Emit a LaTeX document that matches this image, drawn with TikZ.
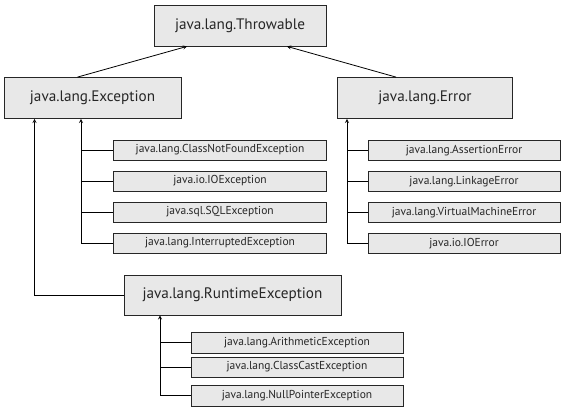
\documentclass[tikz,border=0pt]{standalone}
\usepackage{fontspec}
\setmainfont{PT Sans}
\begin{document}
\begin{tikzpicture}[x=1pt,y=-1pt,>=stealth,line width=0.8pt,
		cls/.style={draw=black!85,fill=black!9,inner sep=0pt,text=black!85},
		big/.style={cls,minimum height=41pt,font=\fontsize{15.2}{17}\selectfont},
		small/.style={cls,minimum height=20pt,font=\fontsize{11.5}{13}\selectfont}]
	\useasboundingbox (0,0) rectangle (563,410);
	% top levels
	\node[big,minimum width=172pt] (throwable) at (240,25.5) {java.lang.Throwable};
	\node[big,minimum width=177pt] (exception) at (92.5,98) {java.lang.Exception};
	\node[big,minimum width=175pt] (error) at (425,98) {java.lang.Error};
	\node[big,minimum width=217pt,minimum height=40pt] (runtime) at (232.5,295) {java.lang.RuntimeException};
	\draw[->] ([xshift=-15pt]exception.north)--([xshift=-53pt]throwable.south);
	\draw[->] ([xshift=-29pt]error.north)--([xshift=47pt]throwable.south);
	% subclasses
	\coordinate (exbus) at ([xshift=-11.5pt]exception.south);
	\coordinate (erbus) at ([xshift=-78pt]error.south);
	\coordinate (rtbus) at ([xshift=-72.5pt]runtime.south);
	\foreach \name/\txt [count=\i] in {cnf/java.lang.ClassNotFoundException,ioe/java.io.IOException,
		sql/java.sql.SQLException,intr/java.lang.InterruptedException}{
		\node[small,minimum width=213pt] (\name) at (220,{150+31*(\i-1)}) {\txt};
		\draw (\name.west)--(\name.west -| exbus);
	}
	\foreach \name/\txt [count=\i] in {ase/java.lang.AssertionError,lke/java.lang.LinkageError,
		vme/java.lang.VirtualMachineError,ioerr/java.io.IOError}{
		\node[small,minimum width=192pt] (\name) at (464,{150.5+31*(\i-1)}) {\txt};
		\draw (\name.west)--(\name.west -| erbus);
	}
	\node[small,minimum width=212pt,minimum height=21pt] (arith) at (297,342.8) {java.lang.ArithmeticException};
	\node[small,minimum width=212pt] (ccast) at (297,367) {java.lang.ClassCastException};
	\node[small,minimum width=212pt,minimum height=21pt] (npe) at (297,395.5) {java.lang.NullPointerException};
	\draw (arith.west)--(arith.west -| rtbus);
	\draw (ccast.west)--(ccast.west -| rtbus);
	\draw[->] (intr.west) -| (exbus);
	\draw[->] (ioerr.west) -| (erbus);
	\draw[->] (npe.west) -| (rtbus);
	\draw[->] (runtime.west) -| ([xshift=-58pt]exception.south);
\end{tikzpicture}
\end{document}
